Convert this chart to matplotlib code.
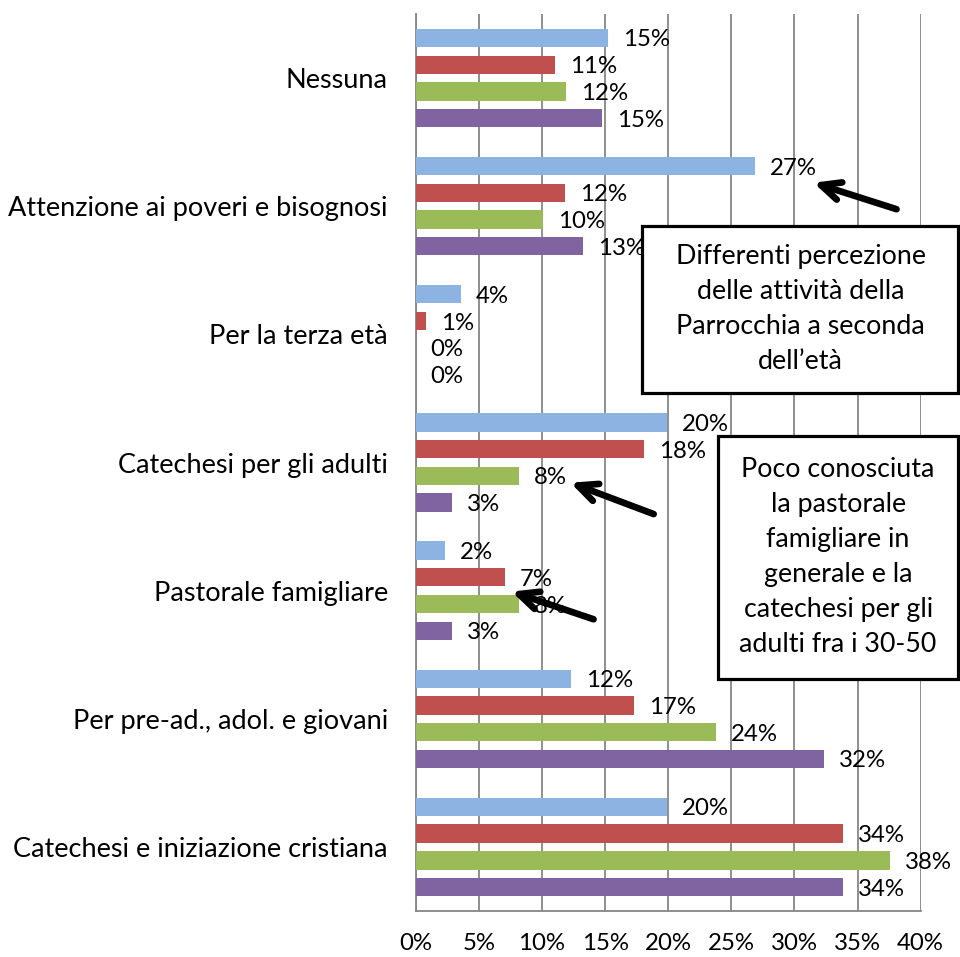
import matplotlib.pyplot as plt
from matplotlib.patches import Rectangle

plt.rcParams['font.family'] = ['Lato', 'DejaVu Sans']

categories = ['Nessuna', 'Attenzione ai poveri e bisognosi', 'Per la terza età',
              'Catechesi per gli adulti', 'Pastorale famigliare',
              'Per pre-ad., adol. e giovani', 'Catechesi e iniziazione cristiana']

# four age groups, values in %
serie_blu = [15.2, 26.9, 3.6, 19.9, 2.35, 12.27, 19.9]
serie_rossa = [11.04, 11.85, 0.79, 18.1, 7.07, 17.3, 33.85]
serie_verde = [11.93, 10.1, 0.0, 8.2, 8.2, 23.8, 37.6]
serie_viola = [14.73, 13.24, 0.0, 2.9, 2.9, 32.35, 33.85]

xticks = [0, 5, 10, 15, 20, 25, 30, 35, 40]

colors = ['#8DB3E2', '#C0504D', '#9BBB59', '#8064A2']

fig = plt.figure(figsize=(9.6, 9.57), dpi=100)
ax = fig.add_axes([0.433, 0.048, 0.526, 0.9374])

n = len(categories)
ypos = [n - 1 - i for i in range(n)]
slot = 0.2085
offsets = [1.5 * slot, 0.5 * slot, -0.5 * slot, -1.5 * slot]

for serie, off, c in zip([serie_blu, serie_rossa, serie_verde, serie_viola], offsets, colors):
    y = [p + off for p in ypos]
    ax.barh(y, serie, height=0.143, color=c, linewidth=0, zorder=3)
    for yy, v in zip(y, serie):
        ax.annotate('%d%%' % round(v), (v, yy), xytext=(15, -2), textcoords='offset pixels',
                    ha='left', va='center', fontsize=17.3, color='black', zorder=4)

ax.set_xlim(0, 40)
ax.set_ylim(-0.5, n - 0.5)
ax.set_yticks(ypos)
ax.set_yticklabels(categories, fontsize=19.5)
ax.set_xticks(xticks)
ax.set_xticklabels(['%d%%' % t for t in xticks], fontsize=17.3)
ax.tick_params(axis='both', length=0)
ax.tick_params(axis='y', pad=20)
ax.tick_params(axis='x', pad=16)
ax.grid(axis='x', color='#868686', linewidth=1.3, zorder=0)
for s in ['top', 'right']:
    ax.spines[s].set_visible(False)
for s in ['left', 'bottom']:
    ax.spines[s].set_color('#868686')
    ax.spines[s].set_linewidth(1.3)

# arrows
arrow = dict(arrowstyle='->,head_length=1.4,head_width=0.65', color='black', lw=4.8)
ax.annotate('', xy=(31.3, 5.19), xytext=(38.3, 4.97), arrowprops=arrow, zorder=6)
ax.annotate('', xy=(12.05, 2.85), xytext=(19.06, 2.59), arrowprops=arrow, zorder=6)
ax.annotate('', xy=(7.38, 2.0), xytext=(14.3, 1.77), arrowprops=arrow, zorder=6)

# callout boxes
fig.add_artist(Rectangle((0.669, 0.589), 0.329, 0.175, transform=fig.transFigure,
                         facecolor='white', edgecolor='black', linewidth=2.3, zorder=5))
fig.text(0.834, 0.677, 'Differenti percezione\ndelle attività della\nParrocchia a seconda\ndell\u2019età',
         ha='center', va='center', fontsize=19.3, linespacing=1.5, zorder=6)
fig.add_artist(Rectangle((0.748, 0.291), 0.250, 0.253, transform=fig.transFigure,
                         facecolor='white', edgecolor='black', linewidth=2.3, zorder=5))
fig.text(0.873, 0.418, 'Poco conosciuta\nla pastorale\nfamigliare in\ngenerale e la\ncatechesi per gli\nadulti fra i 30-50',
         ha='center', va='center', fontsize=19.3, linespacing=1.5, zorder=6)

fig.savefig('out.png', dpi=100)
